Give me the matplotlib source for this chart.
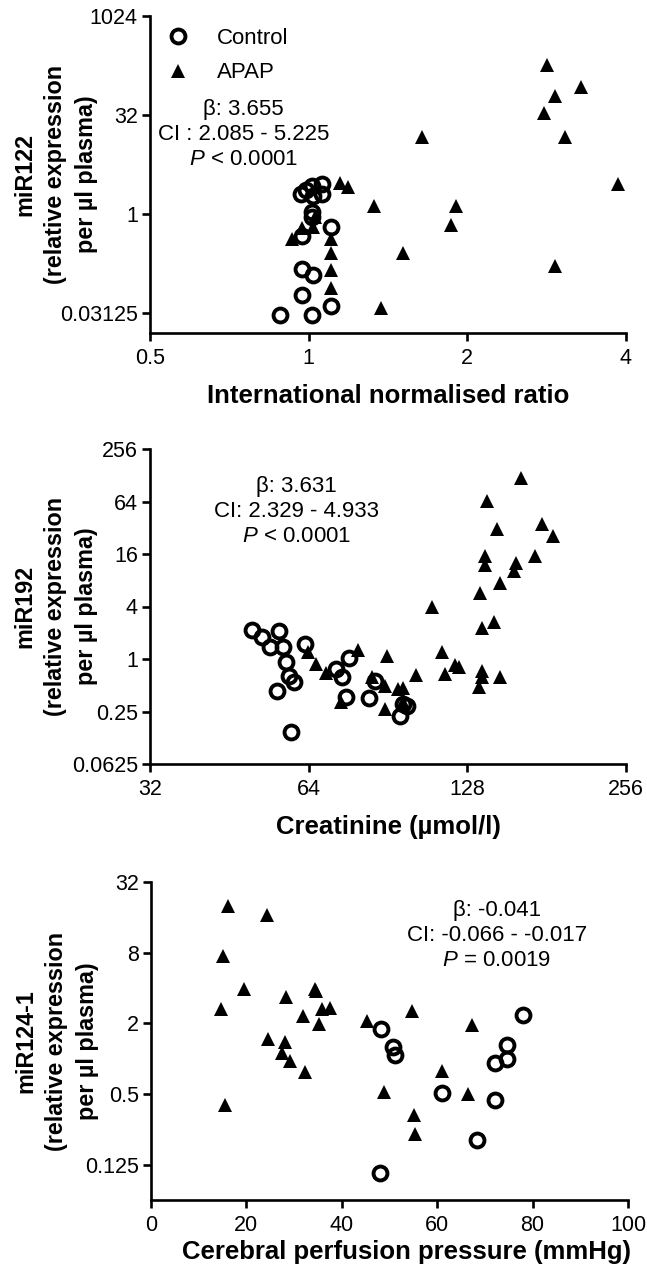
import matplotlib
matplotlib.use("Agg")
import matplotlib.pyplot as plt
from matplotlib.ticker import FixedLocator, FixedFormatter, NullLocator
from matplotlib.lines import Line2D

plt.rcParams["font.family"] = ["Liberation Sans", "DejaVu Sans"]
plt.rcParams["mathtext.fontset"] = "custom"
plt.rcParams["mathtext.rm"] = "Liberation Sans"
plt.rcParams["mathtext.it"] = "Liberation Sans:italic"
plt.rcParams["mathtext.bf"] = "Liberation Sans:bold"

# --- panel 1: miR122 vs INR ---
ctrl_inr = [0.883, 1.015, 1.104, 0.971, 0.971, 1.018, 0.971, 1.104, 1.015, 1.015,
            0.967, 1.015, 1.06, 1.06, 1.018, 0.99]
ctrl_mir122 = [0.0296, 0.0296, 0.0395, 0.0595, 0.147, 0.117, 0.466, 0.646, 1.06, 0.89,
               2.02, 2.71, 2.88, 2.0, 1.9, 2.3]
apap_inr = [2.83, 3.29, 2.93, 2.80, 3.06, 1.64, 3.87, 1.147, 1.19, 1.33, 1.90, 1.86,
            1.51, 2.93, 1.37, 1.104, 1.104, 1.104, 1.104, 0.93, 0.971, 1.018, 1.03]
apap_mir122 = [186, 84, 63, 34, 14.9, 14.9, 2.88, 2.95, 2.56, 1.34, 1.34, 0.69,
               0.259, 0.162, 0.037, 0.075, 0.144, 0.253, 0.424, 0.415, 0.625, 0.64, 0.89]

# --- panel 2: miR192 vs creatinine ---
ctrl_creat = [49.9, 52.1, 56.1, 54.0, 57.1, 63.1, 57.9, 58.8, 60.1, 55.8, 59.2,
              76.2, 72.2, 74.1, 75.2, 83.2, 85.4, 95.3, 96.7, 98.2]
ctrl_mir192 = [2.15, 1.77, 2.08, 1.36, 1.38, 1.49, 0.916, 0.633, 0.54, 0.434, 0.144,
               1.02, 0.77, 0.616, 0.363, 0.354, 0.565, 0.224, 0.305, 0.29]
apap_creat = [162, 139.6, 145.8, 177.7, 186.3, 172, 138.5, 138.5, 158, 156.9, 147.5,
              135.5, 109.6, 143.7, 136.5, 114.5, 121.4, 123.2, 116.2, 136.5, 136.5,
              147.5, 134.6, 102.2, 90.2, 79.4, 63.7, 66.1, 69.1, 84.5, 89.2, 94.6,
              96.7, 89.2, 73.8, 96.7]
apap_mir192 = [118, 65.4, 30.9, 35.3, 26.0, 15.3, 15.0, 12.0, 12.5, 10.3, 7.37,
               5.71, 3.98, 2.68, 2.25, 1.19, 0.853, 0.80, 0.673, 0.735, 0.616,
               0.616, 0.473, 0.655, 1.09, 1.28, 1.19, 0.877, 0.70, 0.616, 0.494, 0.453,
               0.46, 0.268, 0.319, 0.318]

# --- panel 3: miR124-1 vs CPP ---
ctrl_cpp = [48.3, 50.8, 51.2, 61.0, 72.2, 74.6, 74.6, 77.9, 72.1, 68.3, 48.0]
ctrl_mir124 = [1.79, 1.25, 1.075, 0.513, 0.912, 1.31, 0.993, 2.37, 0.441, 0.204, 0.107]
apap_cpp = [16.1, 24.3, 15.0, 19.6, 14.6, 28.2, 34.3, 34.6, 31.9, 35.9, 37.5, 35.3,
            24.5, 28.0, 27.5, 29.2, 32.2, 15.6, 45.2, 48.8, 54.8, 61.1, 55.2, 55.3,
            67.3, 66.4]
apap_mir124 = [19.9, 16.6, 7.54, 3.90, 2.67, 3.35, 3.95, 3.75, 2.33, 2.66, 2.71, 1.99,
               1.47, 1.38, 1.11, 0.955, 0.773, 0.40, 2.08, 0.52, 2.57, 0.784, 0.332,
               0.228, 1.92, 0.503]

ticks1_x = [0.5, 1, 2, 4]
ticks1_xlab = ["0.5", "1", "2", "4"]
ticks1_y = [0.03125, 1, 32, 1024]
ticks1_ylab = ["0.03125", "1", "32", "1024"]
ticks2_x = [32, 64, 128, 256]
ticks2_xlab = ["32", "64", "128", "256"]
ticks2_y = [0.0625, 0.25, 1, 4, 16, 64, 256]
ticks2_ylab = ["0.0625", "0.25", "1", "4", "16", "64", "256"]
ticks3_x = [0, 20, 40, 60, 80, 100]
ticks3_xlab = ["0", "20", "40", "60", "80", "100"]
ticks3_y = [0.125, 0.5, 2, 8, 32]
ticks3_ylab = ["0.125", "0.5", "2", "8", "32"]

stats1 = "β: 3.655\nCI : 2.085 - 5.225\n$\\it{P}$ < 0.0001"
stats2 = "β: 3.631\nCI: 2.329 - 4.933\n$\\it{P}$ < 0.0001"
stats3 = "β: -0.041\nCI: -0.066 - -0.017\n$\\it{P}$ = 0.0019"

W, H = 647, 1270
fig = plt.figure(figsize=(W / 100, H / 100), dpi=100)


def make_axes(left, right, top, bottom):
    return fig.add_axes([left / W, 1 - bottom / H, (right - left) / W, (bottom - top) / H])


ax1 = make_axes(150, 626, 16, 333)
ax2 = make_axes(150, 626, 449, 764)
ax3 = make_axes(151, 628, 882, 1200)

circ = dict(marker="o", ms=10, mew=2.8, mfc="none", mec="black", ls="none")
tri = dict(marker="^", ms=9.5, mew=0, color="black", ls="none")


def style(ax, xt, xl, yt, yl, xlabel, ylabel):
    for s in ["top", "right"]:
        ax.spines[s].set_visible(False)
    for s in ["left", "bottom"]:
        ax.spines[s].set_linewidth(1.9)
    ax.xaxis.set_major_locator(FixedLocator(xt))
    ax.xaxis.set_major_formatter(FixedFormatter(xl))
    ax.yaxis.set_major_locator(FixedLocator(yt))
    ax.yaxis.set_major_formatter(FixedFormatter(yl))
    ax.xaxis.set_minor_locator(NullLocator())
    ax.yaxis.set_minor_locator(NullLocator())
    ax.tick_params(length=5.8, width=1.9, labelsize=15.5, pad=3)
    ax.tick_params(axis="x", pad=5)
    ax.set_xlabel(xlabel, fontsize=18.5, fontweight="bold", labelpad=11)
    ax.set_ylabel(ylabel, fontsize=16.8, fontweight="bold", linespacing=1.42)
    ax.yaxis.set_label_coords(-0.11, 0.5)


# panel 1
ax1.plot(apap_inr, apap_mir122, **tri)
ax1.plot(ctrl_inr, ctrl_mir122, **circ)
ax1.set_xscale("log", base=2)
ax1.set_yscale("log", base=2)
ax1.set_xlim(0.5, 4)
ax1.set_ylim(2 ** -6, 1024)
style(ax1, ticks1_x, ticks1_xlab, ticks1_y, ticks1_ylab,
      "International normalised ratio", "miR122\n(relative expression\nper µl plasma)")
ax1.text(0.197, 0.625, stats1, transform=ax1.transAxes, ha="center", va="center",
         fontsize=16, linespacing=1.25)
handles = [Line2D([], [], **circ), Line2D([], [], **tri)]
ax1.legend(handles, ["Control", "APAP"], loc="upper left", bbox_to_anchor=(0.036, 0.962),
           frameon=False, fontsize=16, numpoints=1, handlelength=1.0, handletextpad=1.26,
           labelspacing=0.6, borderpad=0, borderaxespad=0)

# panel 2
ax2.plot(apap_creat, apap_mir192, **tri)
ax2.plot(ctrl_creat, ctrl_mir192, **circ)
ax2.set_xscale("log", base=2)
ax2.set_yscale("log", base=2)
ax2.set_xlim(32, 256)
ax2.set_ylim(0.0625, 256)
style(ax2, ticks2_x, ticks2_xlab, ticks2_y, ticks2_ylab,
      "Creatinine (µmol/l)", "miR192\n(relative expression\nper µl plasma)")
ax2.text(0.307, 0.803, stats2, transform=ax2.transAxes, ha="center", va="center",
         fontsize=16, linespacing=1.25)

# panel 3
ax3.plot(apap_cpp, apap_mir124, **tri)
ax3.plot(ctrl_cpp, ctrl_mir124, **circ)
ax3.set_yscale("log", base=2)
ax3.set_xlim(0, 100)
ax3.set_ylim(0.0625, 32)
style(ax3, ticks3_x, ticks3_xlab, ticks3_y, ticks3_ylab,
      "Cerebral perfusion pressure (mmHg)", "miR124-1\n(relative expression\nper µl plasma)")
ax3.xaxis.set_label_coords(0.535, -0.125)
ax3.text(0.725, 0.833, stats3, transform=ax3.transAxes, ha="center", va="center",
         fontsize=16, linespacing=1.25)

fig.savefig("out.png", dpi=100)
